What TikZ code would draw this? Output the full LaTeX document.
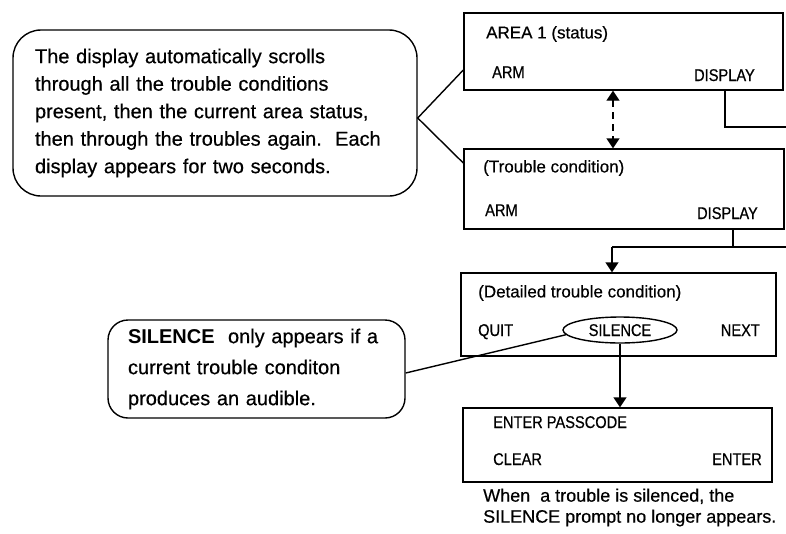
\documentclass[tikz,border=0pt]{standalone}
\usepackage{fontspec}
\setmainfont{Liberation Sans}[UprightFeatures={FakeBold=0.5}]
\newfontfamily\condfont[FakeStretch=0.86,FakeBold=0.6]{Liberation Sans}
\usetikzlibrary{arrows.meta,shapes.geometric}
\begin{document}
\begin{tikzpicture}[x=1pt,y=-1pt,
  screen/.style={draw, line width=1.4pt, inner sep=0pt},
  callout/.style={draw, line width=1.4pt, align=left, inner ysep=0pt},
  title/.style={inner sep=0pt, anchor=west, font=\fontsize{17}{20}\selectfont},
  key/.style={inner sep=0pt, font=\condfont\fontsize{17}{20}\selectfont, text height=12pt, text depth=0pt},
  wire/.style={line width=1.4pt},
  flowarrow/.style={line width=1.4pt, -{Triangle[width=13pt,length=10pt]}},
]
\useasboundingbox (0,0) rectangle (786,533);

% callouts
\node[callout, rounded corners=28pt, minimum width=404pt, minimum height=166pt,
      text width=360pt, inner xsep=22pt, font=\fontsize{20}{27.5}\selectfont] (c1) at (215,113)
  {The display automatically scrolls\\ through all the trouble conditions\\ present, then the current area status,\\ then through the troubles again.\ \ Each\\ display appears for two seconds.};
\node[callout, rounded corners=20pt, minimum width=297pt, minimum height=98pt,
      text width=257pt, inner xsep=20pt, font=\fontsize{20}{31}\selectfont] (c2) at (256.5,369)
  {\textbf{SILENCE}\ \ only appears if a\\ current trouble conditon\\ produces an audible.};

% screens
\node[screen, minimum width=319pt, minimum height=77pt] (b1) at (623.5,51.5) {};
\node[screen, minimum width=320pt, minimum height=80pt] (b2) at (624,189) {};
\node[screen, minimum width=315pt, minimum height=83pt] (b3) at (618.5,314.5) {};
\node[screen, minimum width=309pt, minimum height=74pt] (b4) at (617.5,445) {};

% screen texts
\node[title] (t1) at (486,34) {AREA 1 (status)};
\node[key, anchor=west] (k1a) at (492,72) {ARM};
\node[key, anchor=east] (k1b) at (755,75) {DISPLAY};
\node[title] (t2) at (483,168) {(Trouble condition)};
\node[key, anchor=west] (k2a) at (485,210) {ARM};
\node[key, anchor=east] (k2b) at (758,213) {DISPLAY};
\node[title] (t3) at (478,293) {(Detailed trouble condition)};
\node[key, anchor=west] (k3a) at (478,330) {QUIT};
\node[ellipse, draw, line width=1.4pt, inner sep=0pt, minimum width=114pt, minimum height=26pt,
      key] (sil) at (620,330) {SILENCE};
\node[key, anchor=east] (k3c) at (760,330) {NEXT};
\node[key, anchor=west] (t4) at (493,422) {ENTER PASSCODE};
\node[key, anchor=west] (k4a) at (493,459) {CLEAR};
\node[key, anchor=east] (k4b) at (762,459) {ENTER};

\node[inner sep=0pt, anchor=west, align=left, font=\fontsize{18}{21}\selectfont] (cap) at (483,507.5)
  {When\ \ a trouble is silenced, the\\ SILENCE prompt no longer appears.};

% callout leaders
\coordinate (apex) at ([yshift=-5pt]c1.east);
\draw[wire] ([yshift=-18.5pt]b1.west) -- (apex) -- ([yshift=26pt]b2.west);
\draw[wire] ([yshift=-4pt]c2.east) -- (sil.185);

% flow
\draw[line width=1.4pt, dash pattern=on 7pt off 5pt,
      {Triangle[width=13pt,length=10pt]}-{Triangle[width=13pt,length=10pt]}]
  ([xshift=-10.5pt]b1.south) -- ([xshift=-11pt]b2.north);

\coordinate (e1) at (786,127);
\draw[wire] ([xshift=101.5pt]b1.south) |- (e1);

\coordinate (e2) at (786,247);
\coordinate (j2) at (612,247);
\draw[wire] ([xshift=109pt]b2.south) -- ([xshift=109pt]b2.south |- e2);
\draw[wire] (e2) -- (j2);
\draw[flowarrow] (j2) -- (j2 |- b3.north);

\draw[flowarrow] (sil.south) -- (sil.south |- b4.north);
\end{tikzpicture}
\end{document}
